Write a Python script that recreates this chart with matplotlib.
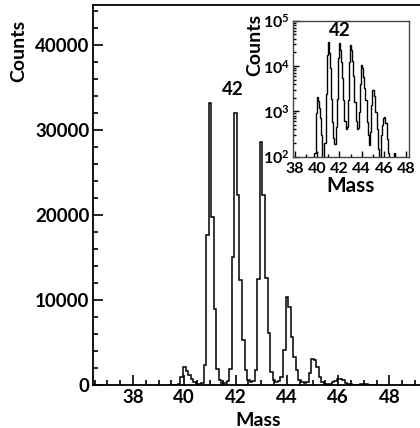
import numpy as np
import matplotlib
matplotlib.use("Agg")
import matplotlib.pyplot as plt
from matplotlib.ticker import MultipleLocator, LogLocator, NullFormatter

plt.rcParams['font.family'] = ['Lato', 'DejaVu Sans']
plt.rcParams['font.weight'] = 'bold'
plt.rcParams['axes.labelweight'] = 'bold'
plt.rcParams['mathtext.default'] = 'regular'

# ---- data: histogram counts in 0.1-mass bins, first bin centred at 39.5 ----
bin_start = 39.45
bin_width = 0.1
counts = [0, 0, 30, 120, 900, 2080, 1680, 1210, 700, 300,
          60, 90, 200, 2350, 17650, 33200, 19800, 8900, 1850, 590,
          260, 190, 450, 1900, 15100, 32000, 22350, 12350, 5300, 1760,
          600, 400, 450, 1760, 12500, 28600, 22350, 12600, 6100, 1570,
          600, 400, 420, 980, 4100, 10400, 9200, 5700, 3300, 1760,
          590, 300, 180, 350, 1380, 3020, 2950, 2150, 980, 400,
          150, 60, 90, 300, 500, 700, 750, 550, 250, 120,
          60, 40, 30, 50, 80, 120, 70, 30, 20, 10, 0]
x_ticks = [38, 40, 42, 44, 46, 48]
y_ticks = [0, 10000, 20000, 30000, 40000]
peak_label = "42"

counts = np.array(counts, dtype=float)
edges = np.round(bin_start + bin_width * np.arange(len(counts) + 1), 3)

fig = plt.figure(figsize=(4.2, 4.28), dpi=100)

# ---- main axes ----
ax = fig.add_axes([0.2226, 0.1005, 0.7834, 0.8878])
ax.stairs(counts, edges, baseline=None, color='black', lw=1.1)
ax.set_xlim(36.46, 49.29)
ax.set_ylim(0, 44700)
ax.set_xticks(x_ticks)
ax.set_yticks(y_ticks)
ax.xaxis.set_minor_locator(MultipleLocator(0.5))
ax.yaxis.set_minor_locator(MultipleLocator(2000))
ax.tick_params(which='both', direction='in', top=False, right=False,
               labelsize=13.5, width=1.2)
ax.tick_params(which='major', length=7, pad=3)
ax.tick_params(which='minor', length=3.5)
for s in ['left', 'bottom', 'top']:
    ax.spines[s].set_linewidth(1.3)
ax.spines['right'].set_visible(False)
ax.set_xlabel("Mass", fontsize=14, fontweight='bold', labelpad=4)
ax.set_ylabel("Counts", fontsize=14, fontweight='bold')
ax.yaxis.set_label_coords(-0.2, 0.88)
ax.text(41.9, 34800, peak_label, fontsize=13.5, fontweight='bold',
        ha='center', va='center')

# ---- inset (log) ----
ins = fig.add_axes([0.697, 0.6343, 0.2777, 0.3173])
ins.stairs(np.maximum(counts, 1), edges, baseline=None, color='black', lw=1.0)
ins.set_yscale('log')
ins.set_ylim(100, 1e5)
ins.set_xlim(37.8, 48.3)
ins.set_xticks(x_ticks)
ins.xaxis.set_minor_locator(MultipleLocator(1))
ins.yaxis.set_major_locator(LogLocator(base=10, numticks=10))
ins.yaxis.set_minor_locator(LogLocator(base=10, subs=np.arange(2, 10), numticks=10))
ins.yaxis.set_minor_formatter(NullFormatter())
ins.tick_params(which='both', direction='in', top=False, right=False,
                labelsize=11.5, width=1.0)
ins.tick_params(axis='x', pad=4)
ins.tick_params(axis='y', pad=2)
ins.tick_params(which='major', length=4)
ins.tick_params(which='minor', length=2)
for s in ins.spines.values():
    s.set_linewidth(1.0)
    s.set_color('#444444')
ins.set_xlabel("Mass", fontsize=15, fontweight='bold', labelpad=0)
ins.set_ylabel("Counts", fontsize=14, fontweight='bold')
ins.yaxis.set_label_coords(-0.25, 0.82)
ins.text(42.05, 60000, peak_label, fontsize=13.5, fontweight='bold',
         ha='center', va='center')

fig.savefig("out.png", dpi=100)
